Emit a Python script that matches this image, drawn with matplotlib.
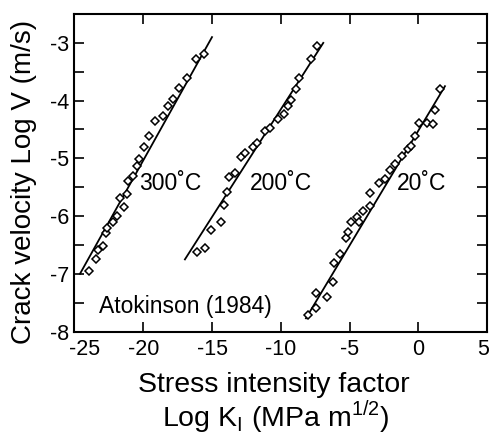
import matplotlib
matplotlib.use("Agg")
import matplotlib.pyplot as plt
import matplotlib.transforms as mtransforms
from matplotlib.ticker import MultipleLocator

plt.rcParams['font.family'] = ['Liberation Sans', 'DejaVu Sans']
plt.rcParams['axes.unicode_minus'] = False

# 300 C data
x300 = [-23.95, -23.44, -23.27, -22.91, -22.72, -22.67, -22.23, -21.89, -21.70, -21.41,
        -21.21, -21.09, -20.78, -20.44, -20.34, -19.93, -19.57, -19.15, -18.55, -18.19,
        -17.82, -17.39, -16.83, -16.19, -15.59]
y300 = [-6.95, -6.75, -6.59, -6.51, -6.30, -6.20, -6.11, -6.00, -5.69, -5.84,
        -5.62, -5.40, -5.31, -5.13, -5.01, -4.81, -4.61, -4.35, -4.27, -4.10,
        -3.98, -3.79, -3.61, -3.28, -3.19]
fit300_x = [-24.6, -15.0]
fit300_y = [-7.0, -2.9]

# 200 C data
x200 = [-16.12, -15.52, -15.08, -14.37, -14.11, -13.89, -13.77, -13.33, -12.90, -12.61,
        -12.00, -11.76, -11.15, -10.79, -10.19, -9.77, -9.46, -9.28, -8.90, -8.66,
        -7.83, -7.39]
y200 = [-6.62, -6.55, -6.24, -6.11, -5.81, -5.59, -5.33, -5.26, -4.98, -4.91,
        -4.81, -4.74, -4.53, -4.48, -4.31, -4.23, -4.09, -3.99, -3.80, -3.61,
        -3.28, -3.05]
fit200_x = [-16.97, -6.91]
fit200_y = [-6.75, -3.0]

# 20 C data
x20 = [-8.00, -7.44, -7.44, -6.67, -6.23, -6.13, -5.70, -5.26, -5.09, -4.92,
       -4.44, -4.32, -4.05, -3.52, -3.52, -2.84, -2.43, -2.06, -1.70, -1.21,
       -0.73, -0.56, -0.24, 0.05, 0.61, 1.04, 1.21, 1.57]
y20 = [-7.71, -7.60, -7.34, -7.40, -7.15, -6.81, -6.65, -6.38, -6.28, -6.11,
       -6.02, -6.11, -5.91, -5.82, -5.60, -5.42, -5.35, -5.20, -5.10, -4.96,
       -4.83, -4.79, -4.61, -4.39, -4.38, -4.40, -4.16, -3.80]
fit20_x = [-8.17, 1.94]
fit20_y = [-7.77, -3.75]

x_ticks = [-25, -20, -15, -10, -5, 0, 5]
x_ticklabels = ['-25', '-20', '-15', '-10', '-5', '0', '5']

labels = ['300˚C', '200˚C', '20˚C']
label_pos = [(-20.3, -5.43), (-12.25, -5.43), (-1.55, -5.43)]

fig = plt.figure(figsize=(4.9, 4.38), dpi=100)
ax = fig.add_axes([0.152, 0.243, 0.842, 0.725])

mk = dict(marker='D', markersize=4.5, markerfacecolor='white', markeredgecolor='black',
          markeredgewidth=1.1, linestyle='none')
for xs, ys, fx, fy in [(x300, y300, fit300_x, fit300_y),
                       (x200, y200, fit200_x, fit200_y),
                       (x20, y20, fit20_x, fit20_y)]:
    ax.plot(fx, fy, color='black', lw=1.3, zorder=2)
    ax.plot(xs, ys, zorder=3, **mk)

for lab, (lx, ly) in zip(labels, label_pos):
    ax.text(lx, ly, lab, fontsize=16.5, ha='left', va='center')
ax.text(-23.2, -7.57, 'Atokinson (1984)', fontsize=16.5, ha='left', va='center')

ax.set_xlim(-25, 5)
ax.set_ylim(-8, -2.5)
ax.set_xticks(x_ticks)
ax.set_xticklabels(x_ticklabels)
ax.yaxis.set_major_locator(MultipleLocator(1))
ax.yaxis.set_minor_locator(MultipleLocator(0.5))
ax.tick_params(which='both', direction='in', top=True, right=True, labelsize=15.5, width=1.2)
ax.tick_params(which='major', length=7)
ax.tick_params(which='minor', length=7)
ax.tick_params(axis='x', pad=5)
ax.tick_params(axis='y', pad=4)
for s in ax.spines.values():
    s.set_linewidth(1.5)

# nudge the end x tick labels inward (as in the reference)
xtl = ax.get_xticklabels()
for lbl, dx in [(xtl[0], 10), (xtl[-1], -4)]:
    lbl.set_transform(lbl.get_transform() +
                      mtransforms.ScaledTranslation(dx / 100, 0, fig.dpi_scale_trans))

fig.text(274 / 490, 1 - 385 / 438, 'Stress intensity factor', fontsize=20.5,
         ha='center', va='center')
fig.text(276 / 490, 1 - 417 / 438,
         'Log K$_\\mathregular{I}$ (MPa m$^\\mathregular{1/2}$)', fontsize=20.5,
         ha='center', va='center')
ax.set_ylabel('Crack velocity Log V (m/s)', fontsize=20)
ax.yaxis.set_label_coords(-0.09, 0.47)

fig.savefig('out.png', dpi=100)
